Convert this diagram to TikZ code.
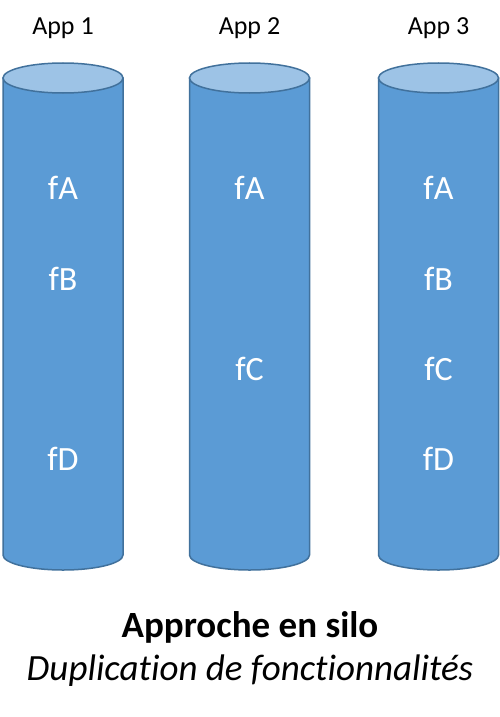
\documentclass[tikz,border=0pt]{standalone}
\usepackage{fontspec}
\setmainfont{Carlito}[Ligatures=NoCommon]
\definecolor{silobody}{HTML}{5B9BD5}
\definecolor{silotop}{HTML}{9DC3E6}
\definecolor{siloedge}{HTML}{41719C}

\begin{document}
\begin{tikzpicture}[x=1pt, y=1pt,
  silo/.style={fill=silobody, draw=siloedge, line width=1.5pt},
  silolid/.style={fill=silotop, draw=siloedge, line width=1.5pt},
  applabel/.style={font=\fontsize{26}{30}\selectfont},
  fn/.style={text=white, font=\fontsize{34}{38}\selectfont}]
\useasboundingbox (0,0) rectangle (500,-717);
% the three silos
\foreach \cx/\n in {63/1, 249.5/2, 438.5/3} {
  \draw[silo] (\cx-60,-78) -- (\cx-60,-555)
    arc[start angle=180, end angle=360, x radius=60pt, y radius=15pt]
    -- (\cx+60,-78) -- cycle;
  \draw[silolid] (\cx,-78) ellipse[x radius=60pt, y radius=15pt];
  \node[applabel] (app\n) at (\cx,-28) {App \n};
}
% functions in each silo
\node[fn] (fa1) at (63,-188) {fA};
\node[fn] (fb1) at (63,-279) {fB};
\node[fn] (fd1) at (63,-459) {fD};
\node[fn] (fa2) at (249.5,-188) {fA};
\node[fn] (fc2) at (249.5,-369) {fC};
\node[fn] (fa3) at (438.5,-188) {fA};
\node[fn] (fb3) at (438.5,-279) {fB};
\node[fn] (fc3) at (438.5,-369) {fC};
\node[fn] (fd3) at (438.5,-459) {fD};
% caption
\node[font=\fontsize{37}{40}\selectfont\bfseries] (title) at (250,-627) {Approche en silo};
\node[font=\fontsize{37}{40}\selectfont\itshape] (subtitle) at (250,-671) {Duplication de fonctionnalités};
\end{tikzpicture}
\end{document}
